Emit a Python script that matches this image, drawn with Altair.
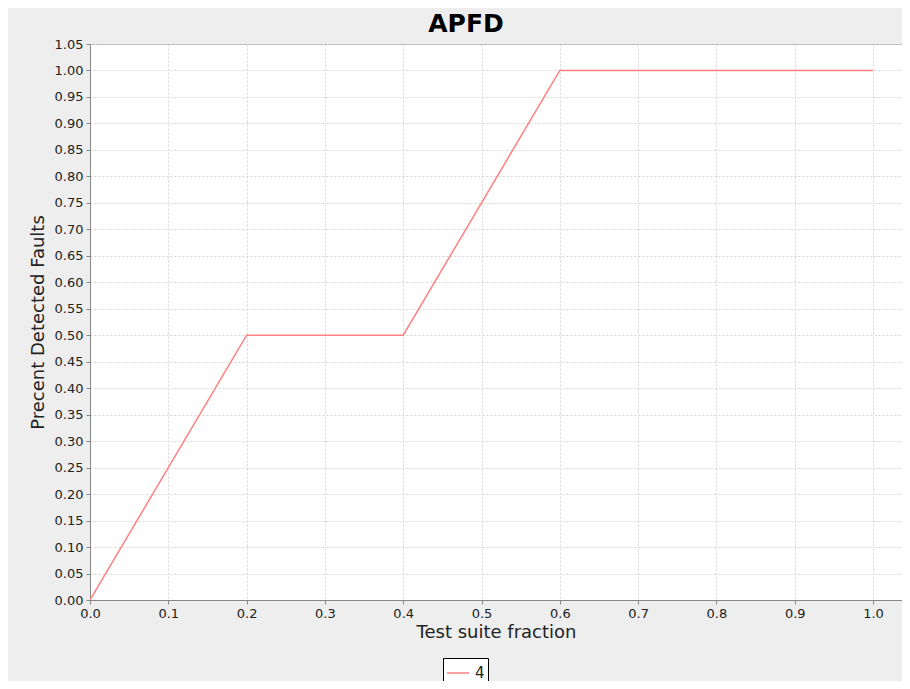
import altair as alt
import pandas as pd

x_vals = [0.0, 0.2, 0.4, 0.6, 0.8, 1.0]
y_vals = [0.0, 0.5, 0.5, 1.0, 1.0, 1.0]
series = ["4"] * len(x_vals)

x_ticks = [round(i * 0.1, 1) for i in range(11)]
y_ticks = [round(i * 0.05, 2) for i in range(22)]

df = pd.DataFrame({"x": x_vals, "y": y_vals, "series": series})

grid_dash = [2, 2]
axis_common = dict(
    grid=True, gridDash=grid_dash, gridColor="#d4d4d4",
    domainColor="#888888", tickColor="#888888", tickSize=4,
    labelFont="DejaVu Sans", labelFontSize=13, labelColor="#222222",
    labelPadding=3, labelFlush=False, labelOverlap=False,
    titleFont="DejaVu Sans", titleFontSize=18,
    titleFontWeight="normal", titleColor="#222222",
)

chart = alt.Chart(df).mark_line(strokeWidth=1.5, clip=True).encode(
    x=alt.X("x:Q", scale=alt.Scale(domain=[0, 1.037], nice=False, zero=False),
            axis=alt.Axis(title="Test suite fraction", values=x_ticks, format=".1f",
                          titlePadding=3, **axis_common)),
    y=alt.Y("y:Q", scale=alt.Scale(domain=[0, 1.05], nice=False),
            axis=alt.Axis(title="Precent Detected Faults", values=y_ticks, format=".2f",
                          titlePadding=7, **axis_common)),
    color=alt.Color("series:N", scale=alt.Scale(range=["#ff8080"]),
                    legend=alt.Legend(title=None, orient="none", legendX=353, legendY=614,
                                      symbolType="stroke", symbolStrokeWidth=1.5,
                                      symbolSize=484, labelFont="DejaVu Sans",
                                      labelFontSize=15, labelColor="#222222",
                                      strokeColor="#000000", fillColor="#ffffff",
                                      padding=3, labelOffset=5)),
).properties(
    width=812,
    height=556,
    title=alt.TitleParams(text="APFD", anchor="middle", dx=-30, fontSize=25,
                          font="DejaVu Sans", fontWeight="bold", color="#000000", offset=1),
    autosize=alt.AutoSizeParams(type="none"),
    padding={"left": 82, "top": 36, "right": 0, "bottom": 81},
    background="#eeeeee",
).configure_view(
    fill="#ffffff", stroke="#aaaaaa", strokeWidth=1
)

chart.save("out.html", embed_options={"renderer": "svg", "actions": False})
